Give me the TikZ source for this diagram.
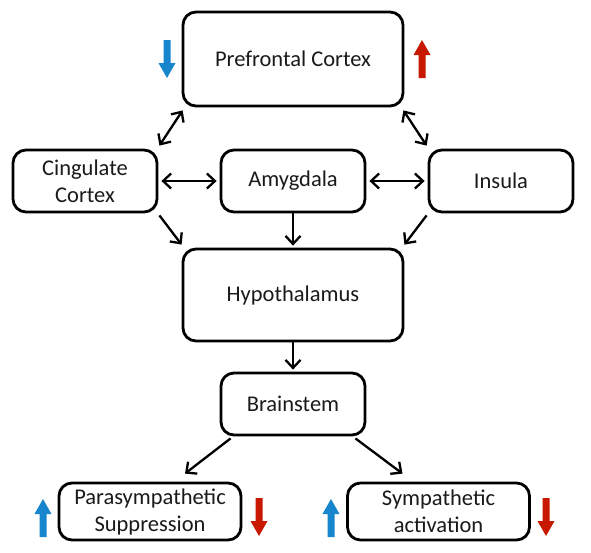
\documentclass[tikz,border=0pt]{standalone}
\usepackage{fontspec}
\setmainfont{Carlito}
\usetikzlibrary{arrows.meta,calc}
\definecolor{arrblue}{HTML}{1786CC}
\definecolor{arrred}{HTML}{C81900}
\definecolor{txt}{HTML}{1A1A1A}
\begin{document}
\begin{tikzpicture}[x=1pt,y=-1pt,
  box/.style={draw=black, line width=2.8pt, rounded corners=13pt, align=center, inner sep=0pt,
    font=\fontsize{22.5}{27}\selectfont, text=txt},
  conn/.style={line width=2.3pt, -{Straight Barb[length=8pt,width=15pt]}},
  dconn/.style={line width=2.3pt, {Straight Barb[length=8pt,width=15pt]}-{Straight Barb[length=8pt,width=15pt]}},
  pics/bigup/.style={code={\fill[#1] (0,-19) -- (8.5,-4) -- (3.5,-4) -- (3.5,19) -- (-3.5,19) -- (-3.5,-4) -- (-8.5,-4) -- cycle;}},
  pics/bigdown/.style={code={\fill[#1] (0,19) -- (8.5,4) -- (3.5,4) -- (3.5,-19) -- (-3.5,-19) -- (-3.5,4) -- (-8.5,4) -- cycle;}},
]
\useasboundingbox[fill=white] (0,0) rectangle (591,552);

\node[box, minimum width=220pt, minimum height=94pt] (pfc) at (293,59) {Prefrontal Cortex};
\node[box, minimum width=144pt, minimum height=62pt] (cing) at (85,181) {Cingulate\\Cortex};
\node[box, minimum width=144pt, minimum height=62pt] (amy) at (293,181) {Amygdala};
\node[box, minimum width=144pt, minimum height=62pt] (ins) at (501,181) {Insula};
\node[box, minimum width=220pt, minimum height=92pt] (hyp) at (293,295) {Hypothalamus};
\node[box, minimum width=144pt, minimum height=62pt] (bst) at (293,404) {Brainstem};
\node[box, minimum width=182pt, minimum height=57pt] (para) at (150,511.5) {Parasympathetic\\Suppression};
\node[box, minimum width=182pt, minimum height=57pt] (symp) at (438.5,511.5) {Sympathetic\\activation};

\draw[dconn] ($(pfc.south west)+(1,3)$) -- ($(cing.north east)+(1,-3)$);
\draw[dconn] ($(pfc.south east)+(-1,3)$) -- ($(ins.north west)+(-1,-3)$);
\draw[dconn] ($(cing.east)+(3,0)$) -- ($(amy.west)+(-3,0)$);
\draw[dconn] ($(amy.east)+(3,0)$) -- ($(ins.west)+(-3,0)$);
\draw[conn] ($(cing.south east)+(1,2)$) -- ($(hyp.north west)+(0,-3)$);
\draw[conn] ($(ins.south west)+(-1,2)$) -- ($(hyp.north east)+(0,-3)$);
\draw[conn] (amy.south) -- ($(hyp.north)+(0,-2)$);
\draw[conn] (hyp.south) -- ($(bst.north)+(0,-2)$);
\draw[conn] ($(bst.south west)+(11,2)$) -- ($(para.north)+(35,-8)$);
\draw[conn] ($(bst.south east)+(-11,2)$) -- ($(symp.north)+(-36,-8)$);

\pic at (167,59) {bigdown=arrblue};
\pic at (422,59) {bigup=arrred};
\pic at (43,518) {bigup=arrblue};
\pic at (259,517) {bigdown=arrred};
\pic at (331,518) {bigup=arrblue};
\pic at (546,517) {bigdown=arrred};
\end{tikzpicture}
\end{document}
